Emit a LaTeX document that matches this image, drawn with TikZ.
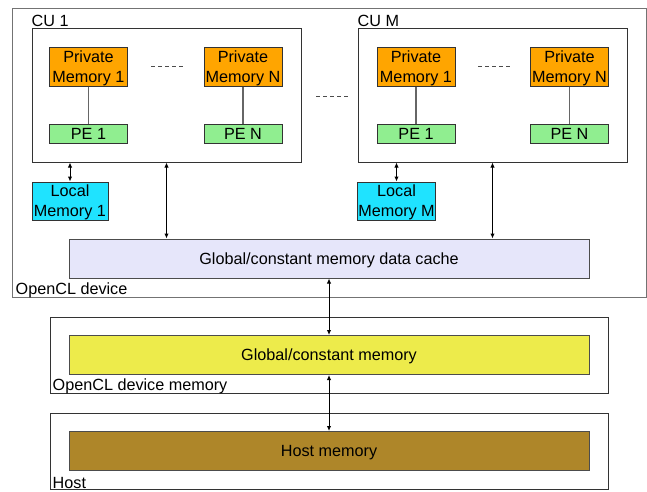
\documentclass[tikz,border=0pt]{standalone}
\usepackage{fontspec}
\setmainfont{Liberation Sans}
\usetikzlibrary{arrows.meta}

\definecolor{privmem}{HTML}{FFA500}
\definecolor{pecol}{HTML}{90EE90}
\definecolor{localmem}{HTML}{1FE3FF}
\definecolor{cachecol}{HTML}{E6E6FA}
\definecolor{globmem}{HTML}{EDEB4B}
\definecolor{hostmem}{HTML}{AE8629}

\begin{document}
\begin{tikzpicture}[x=1pt,y=-1pt,
		font=\fontsize{16.2}{20}\selectfont,
		frame/.style={draw=black!80,line width=1pt,fill=white,inner sep=0pt},
		membox/.style={draw=black!80,line width=1pt,inner sep=1pt,align=center,text depth=0pt,
			minimum width=78pt,minimum height=39pt},
		pebox/.style={draw=black!80,line width=1pt,fill=pecol,inner sep=0pt,
			minimum width=78pt,minimum height=19pt},
		bigbox/.style={draw=black!70,line width=1pt,inner sep=0pt,text depth=0pt,
			minimum width=520pt,minimum height=39pt},
		lbl/.style={inner sep=0pt,anchor=base west},
		biarrow/.style={line width=1pt,{Latex[length=5pt,width=4.5pt]}-{Latex[length=5pt,width=4.5pt]}},
		wire/.style={draw=black!60,line width=1.3pt},
		gap/.style={draw=black!70,line width=1pt,dash pattern=on 4pt off 3pt}]

		\useasboundingbox (0,0) rectangle (647,491);

		%---------------------
		% OpenCL device
		%---------------------
		\node[frame,draw=black!55,minimum width=634pt,minimum height=289pt] (dev) at (329,152.5) {};
		\node[lbl] (devlbl) at ([xshift=4pt,yshift=3pt]dev.south west) {OpenCL device};

		% CU 1
		\node[frame,minimum width=269pt,minimum height=134pt] (cu1) at (166.5,95) {};
		\node[lbl] (cu1lbl) at ([yshift=1pt]cu1.north west) {CU 1};
		\node[membox,fill=privmem] (pm11) at (88.5,66.5) {Private\\Memory 1};
		\node[membox,fill=privmem] (pm1n) at (243,66.5) {Private\\Memory N};
		\node[pebox] (pe11) at (88.5,133.5) {PE 1};
		\node[pebox] (pe1n) at (243,133.5) {PE N};
		\draw[wire] (pm11) -- (pe11);
		\draw[wire] (pm1n) -- (pe1n);
		\draw[gap] (151,66) -- (183,66);

		% CU M
		\node[frame,minimum width=269pt,minimum height=134pt] (cum) at (492.5,95) {};
		\node[lbl] (cumlbl) at ([yshift=1pt]cum.north west) {CU M};
		\node[membox,fill=privmem] (pmm1) at (416,66.5) {Private\\Memory 1};
		\node[membox,fill=privmem] (pmmn) at (569.5,66.5) {Private\\Memory N};
		\node[pebox] (pem1) at (416,133.5) {PE 1};
		\node[pebox] (pemn) at (569.5,133.5) {PE N};
		\draw[wire] (pmm1) -- (pem1);
		\draw[wire] (pmmn) -- (pemn);
		\draw[gap] (478,66) -- (510,66);

		% between the CUs
		\draw[gap] (316,96) -- (348,96);

		% local memories
		\node[membox,fill=localmem,minimum width=76pt,minimum height=38pt] (lm1) at (70,201) {Local\\Memory 1};
		\node[membox,fill=localmem,minimum width=76pt,minimum height=38pt] (lmm) at (396.5,201) {Local\\Memory M};
		\draw[biarrow] (lm1.north) -- (lm1.north |- cu1.south);
		\draw[biarrow] (lmm.north) -- (lmm.north |- cum.south);

		% cache
		\node[bigbox,fill=cachecol] (cache) at (329,258.5) {Global/constant memory data cache};
		\draw[biarrow] (cu1.south) -- (cu1.south |- cache.north);
		\draw[biarrow] (cum.south) -- (cum.south |- cache.north);

		%---------------------
		% OpenCL device memory
		%---------------------
		\node[frame,minimum width=558pt,minimum height=76pt] (devmem) at (329,355) {};
		\node[lbl] (devmemlbl) at ([xshift=3pt,yshift=3.5pt]devmem.south west) {OpenCL device memory};
		\node[bigbox,fill=globmem] (glob) at (329,355) {Global/constant memory};
		\draw[biarrow] (cache.south) -- (glob.north);

		%---------------------
		% Host
		%---------------------
		\node[frame,minimum width=558pt,minimum height=76pt] (host) at (329,451) {};
		\node[lbl] (hostlbl) at ([xshift=3pt,yshift=1pt]host.south west) {Host};
		\node[bigbox,fill=hostmem] (hmem) at (329,451) {Host memory};
		\draw[biarrow] (glob.south) -- (hmem.north);

	\end{tikzpicture}
\end{document}
